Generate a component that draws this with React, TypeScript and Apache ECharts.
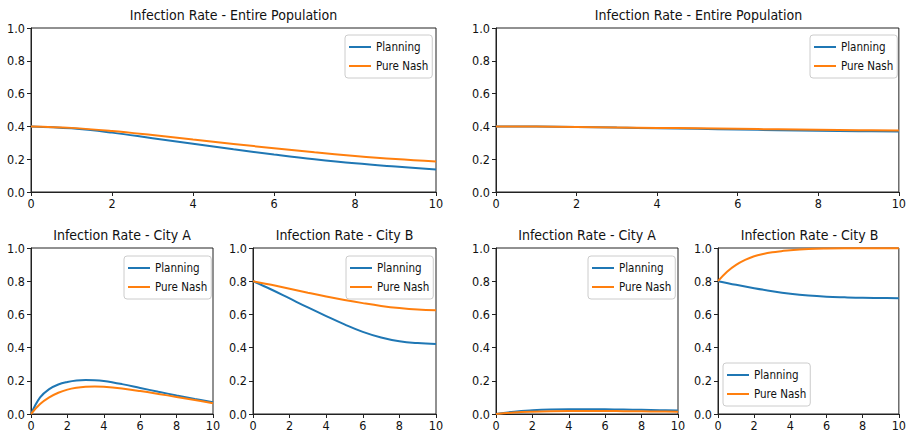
import React, { useEffect, useRef } from "react";
import * as echarts from "echarts";

// time grids
const tUnit = [0, 1, 2, 3, 4, 5, 6, 7, 8, 9, 10];
const tFine = [0, 0.5, 1, 1.5, 2, 2.5, 3, 3.5, 4, 5, 6, 7, 8, 9, 10];

// tick labels
const xTicks = [0, 2, 4, 6, 8, 10];
const yTicks = [0.0, 0.2, 0.4, 0.6, 0.8, 1.0];

const seriesNames = ["Planning", "Pure Nash"];
const titles = [
  "Infection Rate - Entire Population",
  "Infection Rate - Entire Population",
  "Infection Rate - City A",
  "Infection Rate - City B",
  "Infection Rate - City A",
  "Infection Rate - City B",
];

// Top-left: entire population (tUnit)
const popLeftPlanning = [0.4, 0.388, 0.362, 0.328, 0.294, 0.26, 0.229, 0.2, 0.175, 0.155, 0.137];
const popLeftNash = [0.4, 0.391, 0.372, 0.347, 0.32, 0.293, 0.267, 0.242, 0.22, 0.201, 0.186];

// Top-right: entire population (tUnit)
const popRightPlanning = [0.4, 0.399, 0.397, 0.393, 0.389, 0.385, 0.381, 0.377, 0.374, 0.371, 0.369];
const popRightNash = [0.4, 0.399, 0.397, 0.394, 0.391, 0.388, 0.385, 0.382, 0.379, 0.377, 0.375];

// Bottom-left City A (tFine)
const cityALeftPlanning = [0, 0.1, 0.15, 0.178, 0.193, 0.202, 0.205, 0.204, 0.199, 0.18, 0.157, 0.134, 0.112, 0.091, 0.071];
const cityALeftNash = [0, 0.06, 0.1, 0.128, 0.147, 0.158, 0.164, 0.166, 0.164, 0.153, 0.138, 0.121, 0.103, 0.084, 0.065];

// Bottom-left City B (tUnit)
const cityBLeftPlanning = [0.8, 0.75, 0.696, 0.642, 0.59, 0.54, 0.495, 0.461, 0.438, 0.427, 0.422];
const cityBLeftNash = [0.8, 0.778, 0.755, 0.731, 0.708, 0.687, 0.668, 0.651, 0.638, 0.629, 0.625];

// Bottom-right City A (tUnit)
const cityARightPlanning = [0, 0.014, 0.022, 0.027, 0.029, 0.029, 0.028, 0.027, 0.025, 0.023, 0.021];
const cityARightNash = [0, 0.009, 0.014, 0.017, 0.018, 0.018, 0.018, 0.017, 0.016, 0.015, 0.014];

// Bottom-right City B
const cityBRightPlanning = [0.8, 0.778, 0.758, 0.740, 0.725, 0.714, 0.707, 0.703, 0.7, 0.699, 0.698]; // tUnit
const cityBRightNash = [0.8, 0.857, 0.898, 0.928, 0.95, 0.964, 0.974, 0.981, 0.987, 0.994, 0.997, 0.998, 0.998, 0.998, 0.998]; // tFine

const FONT = "'DejaVu Sans Condensed', 'DejaVu Sans', sans-serif";
const BLUE = "#1f77b4";
const ORANGE = "#ff7f0e";
const FRAME = "#222";

const panels = [
  { grid: { left: 31, top: 28, width: 405, height: 164 }, legend: { left: 345, top: 35 }, t: [tUnit, tUnit], y: [popLeftPlanning, popLeftNash] },
  { grid: { left: 496, top: 28, width: 405, height: 164 }, legend: { left: 810, top: 35 }, t: [tUnit, tUnit], y: [popRightPlanning, popRightNash] },
  { grid: { left: 31, top: 248, width: 182, height: 166 }, legend: { left: 124, top: 256 }, t: [tFine, tFine], y: [cityALeftPlanning, cityALeftNash] },
  { grid: { left: 253, top: 248, width: 183, height: 166 }, legend: { left: 346, top: 256 }, t: [tUnit, tUnit], y: [cityBLeftPlanning, cityBLeftNash] },
  { grid: { left: 496, top: 248, width: 182, height: 166 }, legend: { left: 588, top: 256 }, t: [tUnit, tUnit], y: [cityARightPlanning, cityARightNash] },
  { grid: { left: 718, top: 248, width: 183, height: 166 }, legend: { left: 723, top: 363 }, t: [tUnit, tFine], y: [cityBRightPlanning, cityBRightNash] },
];

export default function App() {
  const ref = useRef<HTMLDivElement>(null);
  useEffect(() => {
    if (!ref.current) return;
    const chart = echarts.init(ref.current, undefined, { renderer: "svg" });
    const grids = panels.map((p) => ({
      ...p.grid,
      show: true,
      borderColor: FRAME,
      borderWidth: 1,
      backgroundColor: "transparent",
      containLabel: false,
    }));
    const xAxes = panels.map((_, i) => ({
      type: "value",
      gridIndex: i,
      min: xTicks[0],
      max: xTicks[xTicks.length - 1],
      interval: 2,
      axisLine: { show: true, onZero: false, lineStyle: { color: FRAME, width: 1 } },
      axisTick: { show: true, inside: false, length: 4, lineStyle: { color: FRAME } },
      axisLabel: { color: "#111", fontSize: 12.5, fontFamily: FONT, margin: 5 },
      splitLine: { show: false },
    }));
    const yAxes = panels.map((_, i) => ({
      type: "value",
      gridIndex: i,
      min: yTicks[0],
      max: yTicks[yTicks.length - 1],
      interval: 0.2,
      axisLine: { show: true, onZero: false, lineStyle: { color: FRAME, width: 1 } },
      axisTick: { show: true, inside: false, length: 4, lineStyle: { color: FRAME } },
      axisLabel: { color: "#111", fontSize: 12.5, fontFamily: FONT, margin: 6, formatter: (v: number) => v.toFixed(1) },
      splitLine: { show: false },
    }));
    const series: any[] = [];
    panels.forEach((p, i) => {
      [0, 1].forEach((k) => {
        series.push({
          type: "line",
          name: seriesNames[k],
          xAxisIndex: i,
          yAxisIndex: i,
          data: p.t[k].map((x, j) => [x, p.y[k][j]]),
          showSymbol: false,
          symbol: "none",
          smooth: 0.4,
          color: k === 0 ? BLUE : ORANGE,
          lineStyle: { width: 2, color: k === 0 ? BLUE : ORANGE },
        });
      });
    });
    const legends = panels.map((p) => ({
      left: p.legend.left,
      top: p.legend.top,
      orient: "vertical",
      data: seriesNames,
      icon: "rect",
      itemWidth: 22,
      itemHeight: 2,
      itemGap: 7,
      padding: [6, 4, 6, 4],
      borderColor: "#ccc",
      borderWidth: 1,
      borderRadius: 3,
      backgroundColor: "rgba(255,255,255,0.8)",
      selectedMode: false,
      textStyle: { fontSize: 11.5, fontFamily: FONT, color: "#111", padding: [0, 0, 0, 0] },
    }));
    const titleGraphics = panels.map((p, i) => ({
      type: "text",
      x: p.grid.left + p.grid.width / 2,
      y: p.grid.top - 13,
      style: {
        text: titles[i],
        fontSize: 14,
        fontFamily: FONT,
        fill: "#111",
        align: "center",
        verticalAlign: "middle",
      },
    }));
    chart.setOption({
      animation: false,
      backgroundColor: "#fff",
      grid: grids,
      xAxis: xAxes,
      yAxis: yAxes,
      legend: legends,
      series,
      graphic: titleGraphics,
    });
    return () => chart.dispose();
  }, []);
  return <div ref={ref} style={{ position: "fixed", left: 0, top: 0, width: 909, height: 433 }} />;
}
